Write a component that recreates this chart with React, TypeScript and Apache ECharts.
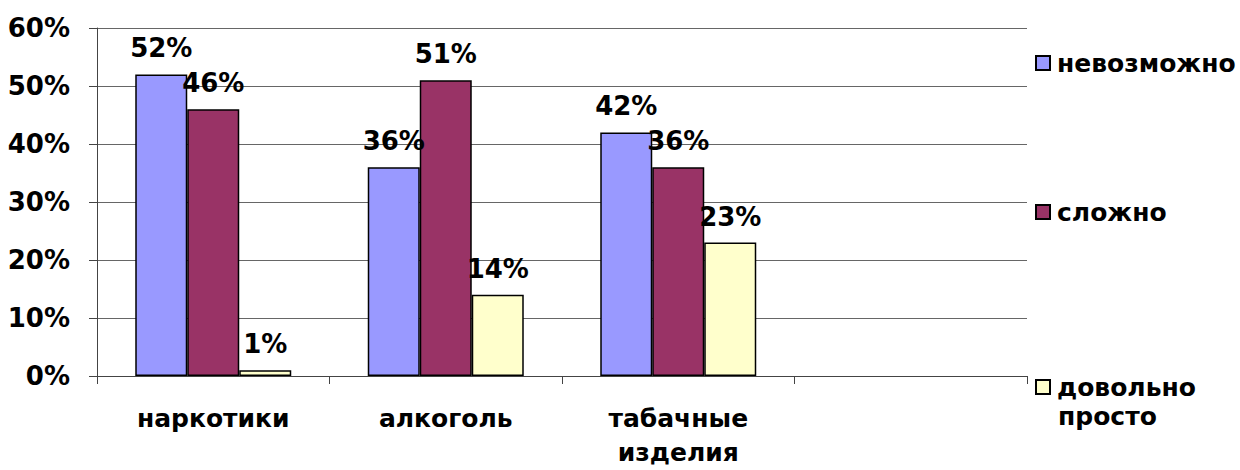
import React, { useEffect, useRef } from "react";
import * as echarts from "echarts";

const categories = ["наркотики", "алкоголь", "табачные изделия", ""];
const seriesNames = ["невозможно", "сложно", "довольно просто"];
const impossible = [52, 36, 42, null];
const hard = [46, 51, 36, null];
const easy = [1, 14, 23, null];
const colors = ["#9999FF", "#993366", "#FFFFCC"];

const FONT = "'DejaVu Sans', sans-serif";
const FS = 26;

export default function App() {
  const ref = useRef<HTMLDivElement>(null);
  useEffect(() => {
    document.body.style.margin = "0";
    const chart = echarts.init(ref.current!, null, { renderer: "svg" });
    const values = [impossible, hard, easy];
    const labelStyle = {
      show: true,
      position: "top",
      distance: 13,
      formatter: "{c}%",
      fontFamily: FONT,
      fontWeight: "bold",
      fontSize: FS,
      color: "#000",
    };
    const legendTops = [50, 199, 374];
    chart.setOption({
      animation: false,
      backgroundColor: "#fff",
      textStyle: { fontFamily: FONT },
      grid: {
        left: 97,
        right: 213,
        top: 28,
        bottom: 94,
        containLabel: false,
        outerBoundsMode: "none",
      },
      legend: seriesNames.map((n, i) => ({
        data: [n],
        orient: "vertical",
        left: 1035,
        top: legendTops[i],
        icon: "rect",
        itemWidth: 14,
        itemHeight: 14,
        itemGap: 0,
        padding: 0,
        selectedMode: false,
        formatter: (name: string) => name.split(" ")[0],
        textStyle: {
          fontFamily: FONT,
          fontWeight: "bold",
          fontSize: 25,
          lineHeight: 26,
          color: "#000",
          padding: [0, 0, 0, 2],
        },
      })),
      graphic: [
        {
          type: "text",
          left: 1058,
          top: 403,
          style: {
            text: "просто",
            fontFamily: FONT,
            fontWeight: "bold",
            fontSize: 25,
            lineHeight: 26,
            fill: "#000",
          },
        },
      ],
      xAxis: {
        type: "category",
        data: categories,
        axisLine: { lineStyle: { color: "#444", width: 1 } },
        axisTick: { show: true, length: 8, alignWithLabel: false, lineStyle: { color: "#444" } },
        axisLabel: {
          margin: 25,
          fontFamily: FONT,
          fontWeight: "bold",
          fontSize: 25,
          lineHeight: 34,
          color: "#000",
          formatter: (v: string) => v.replace(" ", "\n"),
        },
      },
      yAxis: {
        type: "value",
        min: 0,
        max: 60,
        interval: 10,
        axisLine: { show: true, lineStyle: { color: "#444" } },
        axisTick: { show: true, length: 8, lineStyle: { color: "#444" } },
        splitLine: { lineStyle: { color: "#666", width: 1 } },
        axisLabel: {
          margin: 27,
          formatter: "{value}%",
          fontFamily: FONT,
          fontWeight: "bold",
          fontSize: FS,
          color: "#000",
        },
      },
      series: seriesNames.map((n, i) => ({
        name: n,
        type: "bar",
        data: values[i],
        barWidth: 52,
        barGap: "0%",
        itemStyle: { color: colors[i], borderColor: "#000", borderWidth: 1.5 },
        label: labelStyle,
      })),
    });
    return () => chart.dispose();
  }, []);
  return <div ref={ref} style={{ width: 1240, height: 470 }} />;
}
